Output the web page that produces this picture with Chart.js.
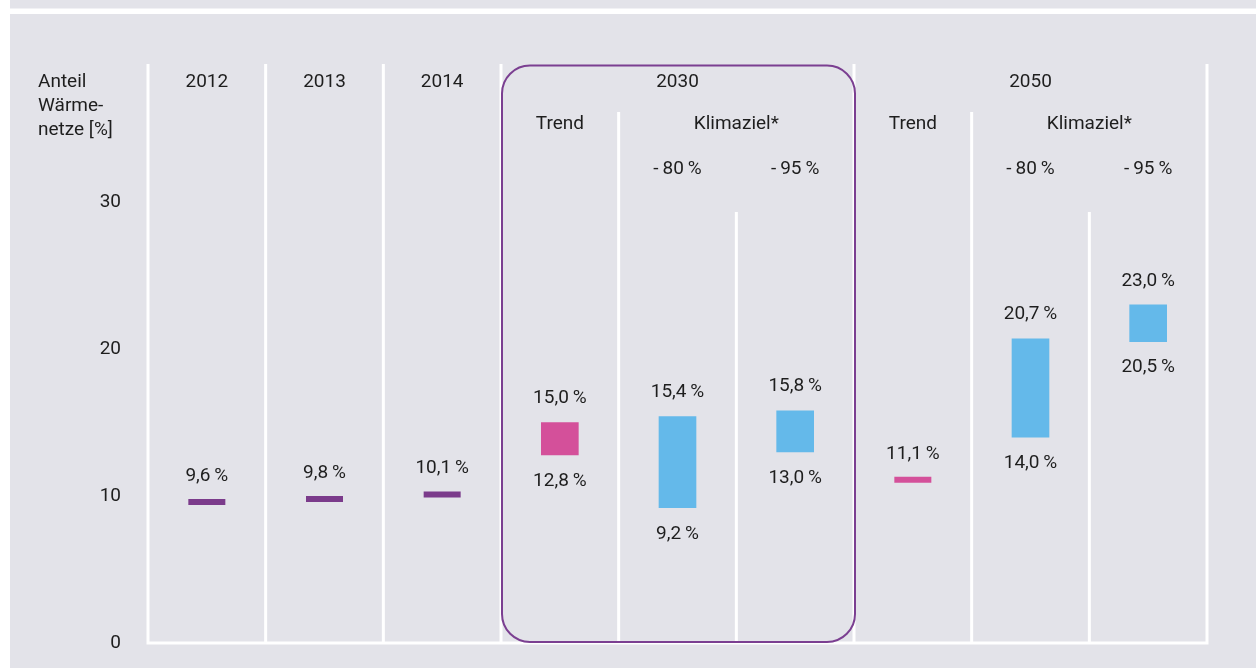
<!DOCTYPE html>
<html>
<head>
<meta charset="utf-8">
<script src="https://cdn.jsdelivr.net/npm/chart.js@4/dist/chart.umd.min.js"></script>
<style>
  html, body { margin: 0; padding: 0; background: #ffffff; }
  #wrap { width: 1256px; height: 668px; position: relative; }
</style>
</head>
<body>
<div id="wrap"><canvas id="c" width="1256" height="668"></canvas></div>
<script>
// ---- data ----
const categories = ['2012', '2013', '2014', '2030 Trend', '2030 -80', '2030 -95', '2050 Trend', '2050 -80', '2050 -95'];
const groupLabels = ['2012', '2013', '2014', '2030', '2030', '2030', '2050', '2050', '2050'];
const subLabels = ['', '', '', 'Trend', 'Klimaziel*', 'Klimaziel*', 'Trend', 'Klimaziel*', 'Klimaziel*'];
const scenarioLabels = ['', '', '', '', '-\u200980\u2009%', '-\u200995\u2009%', '', '-\u200980\u2009%', '-\u200995\u2009%'];
const singleValues = [9.6, 9.8, 10.1, null, null, null, 11.1, null, null];
const rangeLow = [null, null, null, 12.8, 9.2, 13.0, null, 14.0, 20.5];
const rangeHigh = [null, null, null, 15.0, 15.4, 15.8, null, 20.7, 23.0];
const yTicks = [0, 10, 20, 30];
const axisTitle = ['Anteil', 'Wärme-', 'netze [%]'];

// ---- styles ----
const PURPLE = '#7b3b8b', PINK = '#d4509a', BLUE = '#64b9ea';
const colColors = [PURPLE, PURPLE, PURPLE, PINK, BLUE, BLUE, PINK, BLUE, BLUE];
const BG = '#e3e3e9';
const TEXT = '#1e1e1e';
const FONT = 'Roboto, "Open Sans", sans-serif';
const FS = 19;

const fmt = v => v.toFixed(1).replace('.', ',') + '\u2009%';

const rangeData = rangeLow.map((lo, i) => lo === null ? null : [lo, rangeHigh[i]]);

const decor = {
  id: 'decor',
  beforeDraw(chart) {
    const ctx = chart.ctx, W = chart.width, H = chart.height;
    ctx.save();
    ctx.fillStyle = '#ffffff';
    ctx.fillRect(0, 0, W, H);
    ctx.fillStyle = BG;
    ctx.fillRect(10, 0, W - 10, H);
    ctx.fillStyle = '#ffffff';
    ctx.fillRect(10, 8.5, W - 10, 5.5);
    ctx.restore();
  },
  beforeDatasetsDraw(chart) {
    const ctx = chart.ctx, area = chart.chartArea, xs = chart.scales.x;
    const n = categories.length;
    const px = i => xs.getPixelForValue(i);
    const half = (px(1) - px(0)) / 2;
    const boundary = i => px(i) + half; // right edge of column i
    const TOP1 = 64, TOP2 = 112, TOP3 = 212;
    ctx.save();
    ctx.strokeStyle = '#ffffff';
    ctx.lineWidth = 3;
    ctx.beginPath();
    ctx.moveTo(area.left, TOP1); ctx.lineTo(area.left, area.bottom);
    ctx.moveTo(area.right, TOP1); ctx.lineTo(area.right, area.bottom);
    ctx.moveTo(area.left - 1.5, area.bottom); ctx.lineTo(area.right + 1.5, area.bottom);
    ctx.stroke();
    for (let i = 0; i < n - 1; i++) {
      let top;
      if (groupLabels[i] !== groupLabels[i + 1]) top = TOP1;
      else if (subLabels[i] !== subLabels[i + 1]) top = TOP2;
      else top = TOP3;
      const x = boundary(i);
      ctx.beginPath();
      ctx.moveTo(x, top); ctx.lineTo(x, area.bottom);
      ctx.stroke();
    }
    // purple rounded box around 2030 group
    const first = groupLabels.indexOf('2030'), last = groupLabels.lastIndexOf('2030');
    const bx0 = px(first) - half + 1, bx1 = px(last) + half + 1;
    const by0 = 65.5, by1 = area.bottom - 1;
    ctx.strokeStyle = '#7b3f91';
    ctx.lineWidth = 2;
    ctx.beginPath();
    ctx.roundRect(bx0, by0, bx1 - bx0, by1 - by0, 28);
    ctx.stroke();

    // headers
    ctx.fillStyle = TEXT;
    ctx.font = FS + 'px ' + FONT;
    ctx.textAlign = 'center';
    ctx.textBaseline = 'middle';
    const drawMerged = (labels, y) => {
      let i = 0;
      while (i < n) {
        let j = i;
        while (j + 1 < n && labels[j + 1] === labels[i]) j++;
        if (labels[i]) ctx.fillText(labels[i], (px(i) + px(j)) / 2, y);
        i = j + 1;
      }
    };
    drawMerged(groupLabels, 82);
    drawMerged(subLabels, 124);
    scenarioLabels.forEach((s, i) => { if (s) ctx.fillText(s, px(i), 169); });

    // axis title
    ctx.textAlign = 'left';
    axisTitle.forEach((t, k) => ctx.fillText(t, 38, 82 + k * 24));
    ctx.restore();
  },
  afterDatasetsDraw(chart) {
    const ctx = chart.ctx;
    ctx.save();
    ctx.fillStyle = TEXT;
    ctx.font = FS + 'px ' + FONT;
    ctx.textAlign = 'center';
    ctx.textBaseline = 'middle';
    const barMeta = chart.getDatasetMeta(0);
    barMeta.data.forEach((el, i) => {
      if (rangeData[i] === null) return;
      const top = Math.min(el.y, el.base), bot = Math.max(el.y, el.base);
      ctx.fillText(fmt(rangeHigh[i]), el.x, top - 24);
      ctx.fillText(fmt(rangeLow[i]), el.x, bot + 26);
    });
    const ptMeta = chart.getDatasetMeta(1);
    ptMeta.data.forEach((el, i) => {
      if (singleValues[i] === null) return;
      ctx.fillText(fmt(singleValues[i]), el.x, el.y - 26);
    });
    ctx.restore();
  }
};

new Chart(document.getElementById('c'), {
  type: 'bar',
  data: {
    labels: categories,
    datasets: [
      {
        type: 'bar',
        data: rangeData,
        backgroundColor: colColors,
        borderWidth: 0,
        barThickness: 37,
        grouped: false,
        order: 2
      },
      {
        type: 'line',
        data: singleValues,
        showLine: false,
        pointStyle: 'line',
        pointRadius: 18.5,
        pointHoverRadius: 18.5,
        pointBorderWidth: 6,
        pointBorderColor: colColors,
        pointBackgroundColor: colColors,
        order: 1
      }
    ]
  },
  options: {
    responsive: false,
    animation: false,
    events: [],
    layout: { autoPadding: false, padding: { left: 10, right: 49, top: 202, bottom: 25 } },
    plugins: { legend: { display: false }, tooltip: { enabled: false } },
    scales: {
      x: { display: false, offset: true },
      y: {
        min: 0, max: 30,
        afterFit(scale) { scale.width = 138; scale.paddingTop = 0; scale.paddingBottom = 0; },
        afterBuildTicks(scale) { scale.ticks = yTicks.map(v => ({ value: v })); },
        grid: { display: false, drawTicks: false },
        border: { display: false },
        ticks: { color: TEXT, padding: 27, font: { family: FONT, size: FS } }
      }
    }
  },
  plugins: [decor]
});
</script>
</body>
</html>
